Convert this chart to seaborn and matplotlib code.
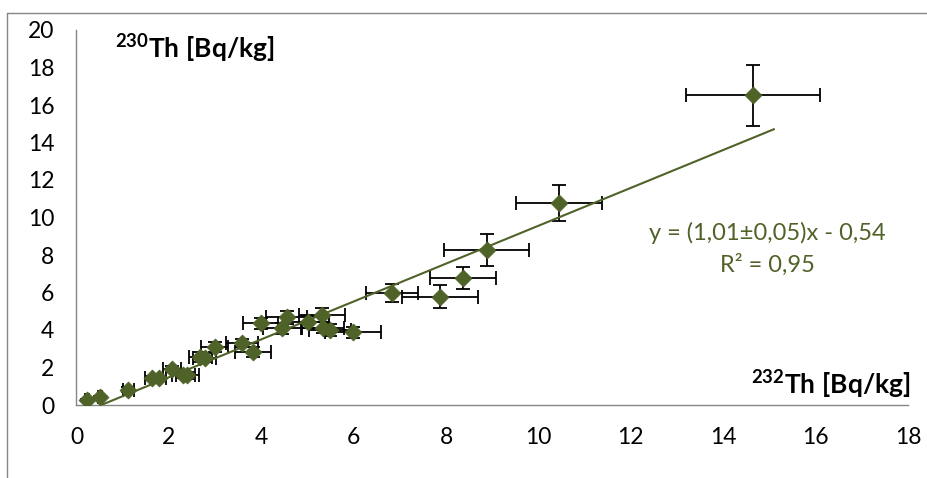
import numpy as np
import pandas as pd
import matplotlib
matplotlib.use("Agg")
import matplotlib.pyplot as plt
import seaborn as sns
from matplotlib.lines import Line2D

# ---- data ----
th232 = [0.23, 0.51, 1.12, 1.64, 1.78, 2.07, 2.31, 2.40, 2.68, 2.78, 2.99,
         3.58, 3.82, 3.99, 4.45, 4.55, 5.02, 5.31, 5.33, 5.49, 5.99,
         6.83, 7.87, 8.37, 8.88, 10.45, 14.65]
th230 = [0.27, 0.43, 0.82, 1.44, 1.42, 1.92, 1.62, 1.58, 2.57, 2.52, 3.10,
         3.30, 2.83, 4.35, 4.10, 4.68, 4.43, 4.80, 4.12, 4.00, 3.88,
         5.97, 5.77, 6.77, 8.27, 10.78, 16.52]
th232_err = [0.05, 0.05, 0.12, 0.15, 0.15, 0.20, 0.25, 0.25, 0.25, 0.25, 0.30,
             0.35, 0.38, 0.38, 0.42, 0.45, 0.45, 0.50, 0.45, 0.45, 0.60,
             0.57, 0.82, 0.72, 0.92, 0.93, 1.45]
th230_err = [0.05, 0.05, 0.12, 0.12, 0.12, 0.15, 0.18, 0.18, 0.25, 0.25, 0.25,
             0.20, 0.25, 0.30, 0.30, 0.35, 0.30, 0.35, 0.30, 0.30, 0.30,
             0.48, 0.62, 0.58, 0.85, 0.97, 1.62]
slope, intercept = 1.01, -0.54
trend_x = [0.535, 15.1]
x_ticks = list(range(0, 19, 2))
y_ticks = list(range(0, 21, 2))
eq_text = "y = (1,01\u00b10,05)x - 0,54"
r2_text = "R\u00b2 = 0,95"

df = pd.DataFrame({"x": th232, "y": th230})
trend = pd.DataFrame({"x": trend_x,
                      "y": [slope * v + intercept for v in trend_x]})

# ---- style ----
sns.set_theme(style="white")
plt.rcParams["font.family"] = ["Lato", "DejaVu Sans"]
plt.rcParams["mathtext.fontset"] = "custom"
plt.rcParams["mathtext.rm"] = "Lato"
plt.rcParams["mathtext.bf"] = "Lato:bold"
plt.rcParams["mathtext.it"] = "Lato:italic"

olive = "#4F6228"
axis_gray = "#868686"

fig = plt.figure(figsize=(9.28, 4.78), dpi=100)
ax = fig.add_axes([76.5 / 928, 1 - 405 / 478, (908 - 76.5) / 928, (405 - 30) / 478])

ax.errorbar(th232, th230, xerr=th232_err, yerr=th230_err, fmt="none",
            ecolor="black", elinewidth=1.3, capsize=5, capthick=1.3, zorder=2)
sns.lineplot(data=trend, x="x", y="y", ax=ax, color=olive, linewidth=1.5,
             zorder=3, legend=False)
sns.scatterplot(data=df, x="x", y="y", ax=ax, marker="D", s=75, color=olive,
                edgecolor=olive, linewidth=0.5, zorder=4, legend=False)

ax.set_xlim(0, 18)
ax.set_ylim(0, 20)
ax.set_xticks(x_ticks)
ax.set_yticks(y_ticks)
ax.set_xlabel("")
ax.set_ylabel("")

for s in ["top", "right"]:
    ax.spines[s].set_visible(False)
for s in ["left", "bottom"]:
    ax.spines[s].set_color(axis_gray)
    ax.spines[s].set_linewidth(1.0)
ax.tick_params(axis="both", which="major", direction="out", length=6,
               width=1.0, color=axis_gray, labelsize=16.5, labelcolor="black")
ax.tick_params(axis="y", pad=10)
ax.tick_params(axis="x", pad=10)

ax.text(0.83, 19.0, r"$\mathbf{^{230}Th\ [Bq/kg]}$", fontsize=19,
        ha="left", va="center", color="black")
ax.text(18.05, 0.2, r"$\mathbf{^{232}Th\ [Bq/kg]}$", fontsize=19,
        ha="right", va="bottom", color="black")
ax.text(14.95, 9.17, eq_text, fontsize=17, ha="center", va="center",
        color=olive)
ax.text(14.95, 7.47, r2_text, fontsize=17, ha="center", va="center",
        color=olive)

# chart-area border (top and left visible)
fig.add_artist(Line2D([7 / 928, 1.0], [1 - 13 / 478, 1 - 13 / 478],
                      transform=fig.transFigure, color=axis_gray, linewidth=1.0))
fig.add_artist(Line2D([7 / 928, 7 / 928], [0.0, 1 - 13 / 478],
                      transform=fig.transFigure, color=axis_gray, linewidth=1.0))

fig.savefig("out.png", dpi=100)
